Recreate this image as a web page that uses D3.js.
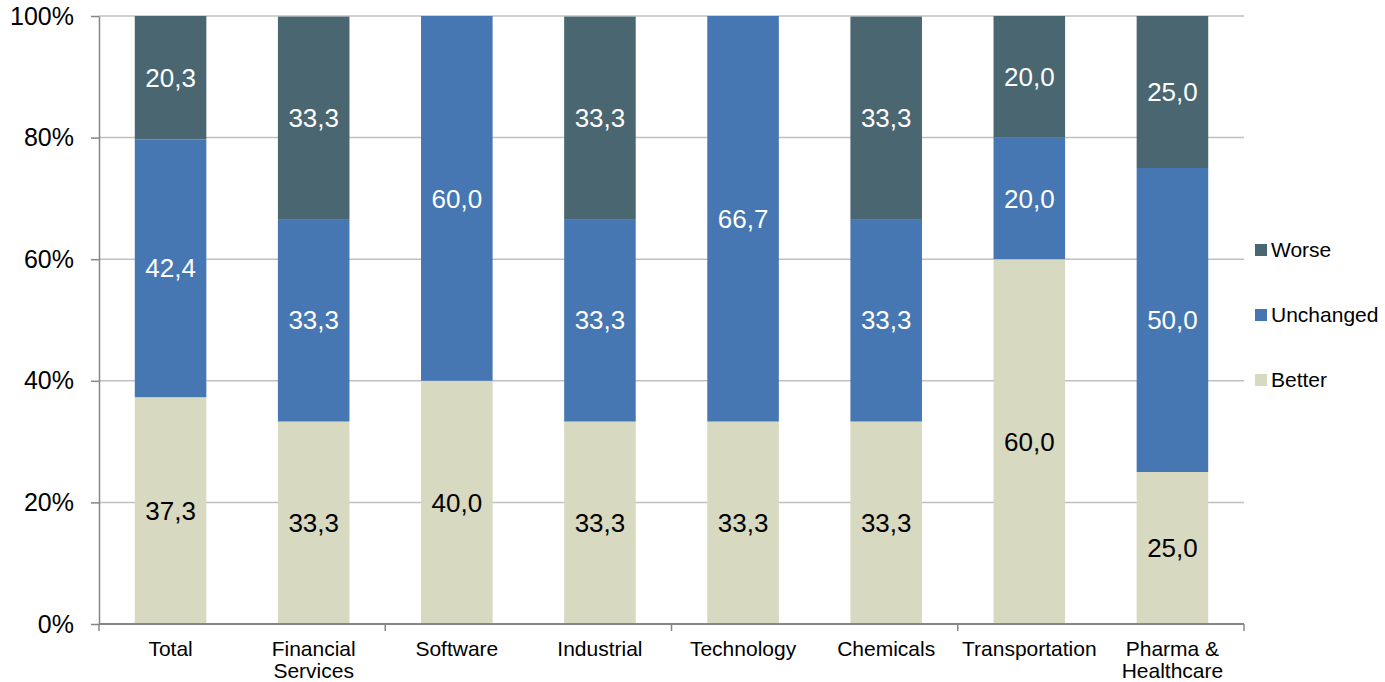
<!DOCTYPE html>
<html>
<head>
<meta charset="utf-8">
<script src="https://cdn.jsdelivr.net/npm/d3@7"></script>
<style>
  body { margin: 0; background: #fff; }
  svg { font-family: "Liberation Sans", Arial, sans-serif; }
</style>
</head>
<body>
<svg width="1385" height="682"></svg>
<script>
// chart data
const categories = ["Total", "Financial Services", "Software", "Industrial", "Technology", "Chemicals", "Transportation", "Pharma & Healthcare"];
const better    = [37.3, 33.3, 40.0, 33.3, 33.3, 33.3, 60.0, 25.0];
const unchanged = [42.4, 33.3, 60.0, 33.3, 66.7, 33.3, 20.0, 50.0];
const worse     = [20.3, 33.3, 0.0, 33.3, 0.0, 33.3, 20.0, 25.0];
const seriesNames = ["Better", "Unchanged", "Worse"];
const yTicks = [0, 20, 40, 60, 80, 100];

const colors = {Better: "#d7d9c0", Unchanged: "#4677b3", Worse: "#4a6670"};
const labelColors = {Better: "#000", Unchanged: "#fff", Worse: "#fff"};

const svg = d3.select("svg");
const margin = {top: 16, left: 99, right: 141, bottom: 58};
const width = 1385, height = 682;

const rows = categories.map((c, i) => ({cat: c, Better: better[i], Unchanged: unchanged[i], Worse: worse[i]}));
const stacked = d3.stack().keys(seriesNames)(rows);

const x = d3.scaleBand()
    .domain(categories)
    .range([margin.left, width - margin.right])
    .paddingInner(0.5)
    .paddingOuter(0.25);

const y = d3.scaleLinear()
    .domain([0, 100])
    .range([height - margin.bottom, margin.top]);

// gridlines
svg.append("g")
    .selectAll("line")
    .data(yTicks.filter(d => d > 0))
    .enter()
    .append("line")
    .attr("x1", margin.left)
    .attr("x2", width - margin.right)
    .attr("y1", d => y(d))
    .attr("y2", d => y(d))
    .attr("stroke", "#c0c0c0")
    .attr("stroke-width", 1.5);

// bars
const layers = svg.append("g")
    .selectAll("g")
    .data(stacked)
    .enter()
    .append("g")
    .attr("fill", d => colors[d.key]);

layers.selectAll("rect")
    .data(d => d)
    .enter()
    .append("rect")
    .attr("x", d => x(d.data.cat))
    .attr("y", d => y(d[1]))
    .attr("width", x.bandwidth())
    .attr("height", d => y(d[0]) - y(d[1]));

// value labels
stacked.forEach(layer => {
    svg.append("g")
        .selectAll("text")
        .data(layer.filter(d => d[1] - d[0] > 0))
        .enter()
        .append("text")
        .attr("x", d => x(d.data.cat) + x.bandwidth() / 2)
        .attr("y", d => y((d[0] + d[1]) / 2))
        .attr("dy", "0.35em")
        .attr("text-anchor", "middle")
        .attr("font-size", 26)
        .attr("fill", labelColors[layer.key])
        .text(d => (d[1] - d[0]).toFixed(1).replace(".", ","));
});

// y axis
const yAxis = svg.append("g")
    .attr("transform", `translate(${margin.left},0)`)
    .call(d3.axisLeft(y).tickValues(yTicks).tickFormat(d => d + "%").tickSize(8).tickSizeOuter(0).tickPadding(17));
yAxis.selectAll("line, path").attr("stroke", "#868686").attr("stroke-width", 1.5);
yAxis.selectAll("text").attr("font-size", 25).attr("fill", "#000").attr("font-family", "'Liberation Sans', Arial, sans-serif");

// x axis line with tick marks every second category boundary
const base = y(0);
svg.append("line")
    .attr("x1", margin.left).attr("x2", width - margin.right)
    .attr("y1", base).attr("y2", base)
    .attr("stroke", "#868686").attr("stroke-width", 2);
const step = x.step();
const boundaries = d3.range(0, categories.length + 1, 2);
svg.append("g")
    .selectAll("line")
    .data(boundaries)
    .enter()
    .append("line")
    .attr("x1", d => margin.left + d * step)
    .attr("x2", d => margin.left + d * step)
    .attr("y1", base)
    .attr("y2", base + 7)
    .attr("stroke", "#868686")
    .attr("stroke-width", 1.5);

// category labels (wrapped)
const wrapLines = {"Financial Services": ["Financial", "Services"], "Pharma & Healthcare": ["Pharma &", "Healthcare"]};
const catLabels = svg.append("g")
    .selectAll("text")
    .data(categories)
    .enter()
    .append("text")
    .attr("x", d => x(d) + x.bandwidth() / 2)
    .attr("y", base + 32)
    .attr("text-anchor", "middle")
    .attr("font-size", 21)
    .attr("fill", "#000");
catLabels.each(function(d) {
    const lines = wrapLines[d] || [d];
    const t = d3.select(this);
    lines.forEach((ln, i) => {
        t.append("tspan")
            .attr("x", x(d) + x.bandwidth() / 2)
            .attr("dy", i === 0 ? 0 : 22)
            .text(ln);
    });
});

// legend
const legendItems = ["Worse", "Unchanged", "Better"];
const legend = svg.append("g")
    .selectAll("g")
    .data(legendItems)
    .enter()
    .append("g")
    .attr("transform", (d, i) => `translate(1255,${250 + i * 65})`);
legend.append("rect")
    .attr("x", 0).attr("y", -6)
    .attr("width", 12).attr("height", 12)
    .attr("fill", d => colors[d]);
legend.append("text")
    .attr("x", 16)
    .attr("dy", "0.35em")
    .attr("font-size", 21)
    .attr("fill", "#000")
    .text(d => d);
</script>
</body>
</html>
